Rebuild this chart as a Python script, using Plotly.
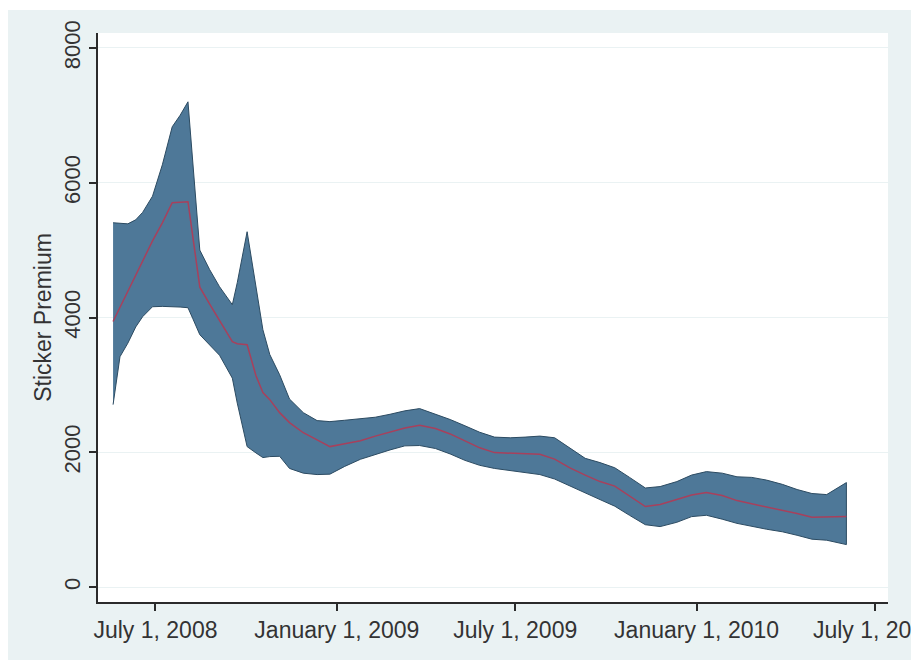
import plotly.graph_objects as go

# Observation dates
dates = [
    "2008-05-19", "2008-05-26", "2008-06-03", "2008-06-11", "2008-06-18", "2008-06-28",
    "2008-07-08", "2008-07-18", "2008-07-26", "2008-08-03", "2008-08-08", "2008-08-15",
    "2008-08-25", "2008-09-04", "2008-09-17", "2008-09-22", "2008-10-02", "2008-10-11",
    "2008-10-18", "2008-10-25", "2008-11-04", "2008-11-14", "2008-11-28", "2008-12-12",
    "2008-12-25", "2009-01-09", "2009-01-25", "2009-02-09", "2009-02-24", "2009-03-11",
    "2009-03-26", "2009-04-11", "2009-04-26", "2009-05-11", "2009-05-26", "2009-06-10",
    "2009-06-26", "2009-07-11", "2009-07-26", "2009-08-10", "2009-08-25", "2009-09-10",
    "2009-09-25", "2009-10-10", "2009-10-25", "2009-11-10", "2009-11-25", "2009-12-12",
    "2009-12-27", "2010-01-11", "2010-01-27", "2010-02-11", "2010-02-26", "2010-03-13",
    "2010-03-29", "2010-04-13", "2010-04-28", "2010-05-13", "2010-06-02",
]

# Lower confidence bound
lower = [
    2707, 3418, 3620, 3860, 4012, 4160,
    4165, 4160, 4155, 4145, 3980, 3745,
    3590, 3440, 3100, 2730, 2084, 1990,
    1921, 1936, 1940, 1760, 1690, 1669,
    1675, 1790, 1896, 1970, 2035, 2095,
    2100, 2056, 1975, 1880, 1806, 1760,
    1727, 1700, 1669, 1603, 1498, 1395,
    1298, 1200, 1064, 925, 897, 961,
    1045, 1065, 1007, 945, 898, 858,
    820, 768, 710, 695, 630,
]

# Estimated sticker premium
estimate = [
    3940, 4149, 4388, 4627, 4837, 5136,
    5405, 5703, 5710, 5718, 5190, 4450,
    4200, 3950, 3640, 3610, 3596, 3135,
    2885, 2781, 2588, 2440, 2290, 2184,
    2084, 2125, 2171, 2240, 2303, 2360,
    2400, 2352, 2272, 2175, 2066, 1995,
    1985, 1980, 1970, 1899, 1772, 1660,
    1565, 1498, 1353, 1194, 1224, 1298,
    1366, 1402, 1357, 1283, 1235, 1194,
    1143, 1090, 1035, 1038, 1046,
]

# Upper confidence bound
upper = [
    5406, 5400, 5390, 5450, 5560, 5800,
    6266, 6830, 7000, 7201, 6250, 5000,
    4710, 4457, 4190, 4516, 5273, 4490,
    3819, 3450, 3150, 2790, 2588, 2470,
    2455, 2475, 2499, 2520, 2564, 2615,
    2648, 2570, 2486, 2393, 2297, 2225,
    2215, 2225, 2240, 2215, 2072, 1910,
    1847, 1770, 1627, 1470, 1491, 1565,
    1662, 1713, 1690, 1636, 1627, 1587,
    1524, 1447, 1388, 1372, 1550,
]

tick_dates = ["2008-07-01", "2009-01-01", "2009-07-01", "2010-01-01", "2010-07-01"]
tick_text = ["July 1, 2008", "January 1, 2009", "July 1, 2009", "January 1, 2010", "July 1, 2010"]
y_ticks = [0, 2000, 4000, 6000, 8000]

BG = "#EAF2F3"
BAND = "#4E7898"
EDGE = "#2C4B62"
LINE = "#A8405C"
TEXT = "#333333"
AXIS = "#2B2B2B"
FONT = "Liberation Sans, Arial, sans-serif"

fig = go.Figure()

# Confidence band as one closed polygon (upper bound out, lower bound back)
fig.add_trace(go.Scatter(
    x=dates + dates[::-1],
    y=upper + lower[::-1],
    mode="lines",
    fill="toself",
    fillcolor=BAND,
    line=dict(color=EDGE, width=1),
    hoverinfo="skip",
    showlegend=False,
))

# Point estimate
fig.add_trace(go.Scatter(
    x=dates, y=estimate,
    mode="lines",
    line=dict(color=LINE, width=1.5),
    showlegend=False,
))

# White frame around the graph region
frame = [
    dict(x0=-0.2, x1=1.2, y0=1 + 23 / 569, y1=1.1),
    dict(x0=-0.2, x1=-90 / 790, y0=-0.2, y1=1.1),
    dict(x0=-0.2, x1=1.2, y0=-0.2, y1=-58 / 569),
]
for r in frame:
    fig.add_shape(type="rect", xref="paper", yref="paper", layer="below",
                  line=dict(width=0), fillcolor="white", **r)

fig.update_layout(
    width=911, height=662,
    margin=dict(l=98, r=23, t=33, b=60),
    paper_bgcolor=BG,
    plot_bgcolor="white",
    font=dict(family=FONT, color=TEXT),
    showlegend=False,
    xaxis=dict(
        type="date",
        range=["2008-05-03 17:00", "2010-07-14 05:00"],
        tickmode="array",
        tickvals=tick_dates,
        ticktext=tick_text,
        ticks="outside", ticklen=7, tickwidth=1.5, tickcolor=AXIS,
        tickfont=dict(size=23, color=TEXT, family=FONT),
        ticklabeloverflow="allow",
        showline=True, linecolor=AXIS, linewidth=1.5,
        showgrid=False, zeroline=False,
        automargin=False,
    ),
    yaxis=dict(
        range=[-222, 8222],
        tickmode="array",
        tickvals=y_ticks,
        ticktext=[str(v) for v in y_ticks],
        tickangle=-90,
        ticks="outside", ticklen=7, tickwidth=1.5, tickcolor=AXIS,
        tickfont=dict(size=22, color=TEXT, family=FONT),
        showline=True, linecolor=AXIS, linewidth=1.5,
        showgrid=True, gridcolor=BG, gridwidth=1,
        zeroline=False,
        title=dict(text="Sticker Premium", font=dict(size=23, color=TEXT, family=FONT), standoff=2),
        automargin=False,
    ),
)

fig.write_html("out.html")
